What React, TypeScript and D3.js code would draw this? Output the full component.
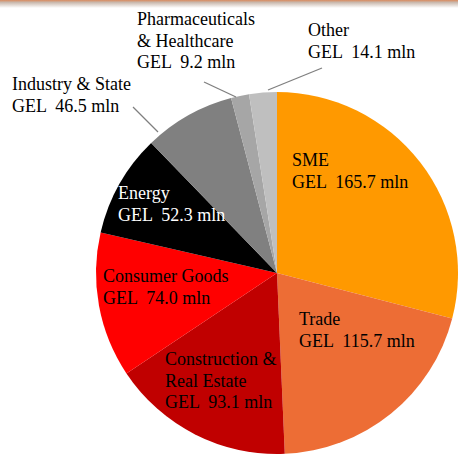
import React from "react";
import * as d3 from "d3";

const categories = [
  "SME",
  "Trade",
  "Construction & Real Estate",
  "Consumer Goods",
  "Energy",
  "Industry & State",
  "Pharmaceuticals & Healthcare",
  "Other",
];
const values = [165.7, 115.7, 93.1, 74.0, 52.3, 46.5, 9.2, 14.1];
const labelLines = [
  ["SME"],
  ["Trade"],
  ["Construction &", "Real Estate"],
  ["Consumer Goods"],
  ["Energy"],
  ["Industry & State"],
  ["Pharmaceuticals", "& Healthcare"],
  ["Other"],
];

const colors = ["#FF9900", "#ED6D35", "#C00000", "#FF0000", "#000000", "#808080", "#A6A6A6", "#BFBFBF"];
const textColors = ["#000", "#000", "#000", "#000", "#fff", "#000", "#000", "#000"];
// label anchor (x, first baseline)
const labelPos: [number, number][] = [
  [292, 166],
  [299, 325],
  [165, 365],
  [103, 282],
  [118, 199],
  [12, 90],
  [137, 25],
  [308, 36],
];
const leaders: ([number, number, number, number] | null)[] = [
  null, null, null, null, null,
  [133, 107, 158, 132],
  [204, 82, 236, 97],
  [322, 68, 268, 90],
];

const W = 458;
const H = 455;
const cx = 277;
const cy = 273;
const R = 181;
const FS = 18;
const LH = 21.5;

export default function App() {
  const pie = d3.pie<number>().sort(null).value((d) => d).startAngle(0).endAngle(2 * Math.PI);
  const arcs = pie(values);
  const arc = d3.arc<d3.PieArcDatum<number>>().innerRadius(0).outerRadius(R);
  const fmt = d3.format(".1f");

  return (
    <svg
      width={W}
      height={H}
      style={{ position: "fixed", left: 0, top: 0, background: "#fff" }}
      fontFamily="'Liberation Serif', 'Times New Roman', serif"
    >
      <defs>
        <linearGradient id="topband" x1="0" y1="0" x2="0" y2="1">
          <stop offset="0" stopColor="#d98a5e" />
          <stop offset="0.3" stopColor="#c9b8ad" />
          <stop offset="1" stopColor="#ffffff" />
        </linearGradient>
      </defs>
      <rect x={0} y={0} width={W} height={H} fill="#fff" />
      <rect x={0} y={0} width={W} height={8} fill="url(#topband)" />
      <g transform={`translate(${cx},${cy})`}>
        {arcs.map((a, i) => (
          <path key={categories[i]} d={arc(a) || ""} fill={colors[i]} />
        ))}
      </g>
      {leaders.map((l, i) =>
        l ? (
          <line key={"l" + i} x1={l[0]} y1={l[1]} x2={l[2]} y2={l[3]} stroke="#7f7f7f" strokeWidth={1.3} />
        ) : null
      )}
      {arcs.map((a, i) => {
        const lines = [...labelLines[i], `GEL  ${fmt(values[i])} mln`];
        return (
          <text
            key={"t" + i}
            x={labelPos[i][0]}
            y={labelPos[i][1]}
            fontSize={FS}
            fill={textColors[i]}
            style={{ whiteSpace: "pre" }}
          >
            {lines.map((s, j) => (
              <tspan key={j} x={labelPos[i][0]} y={labelPos[i][1] + j * LH}>
                {s}
              </tspan>
            ))}
          </text>
        );
      })}
    </svg>
  );
}
